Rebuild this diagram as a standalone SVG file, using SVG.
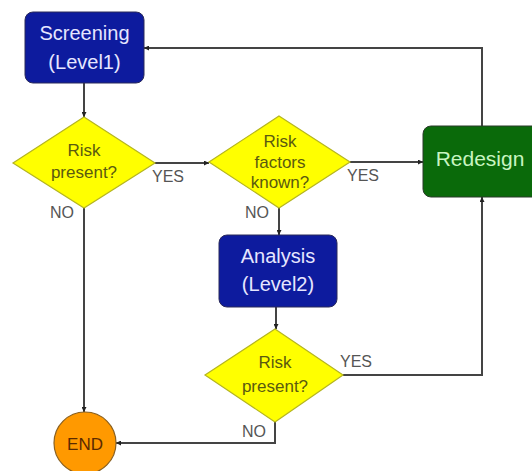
<svg xmlns="http://www.w3.org/2000/svg" width="532" height="471" viewBox="0 0 532 471">
<defs>
<marker id="arr" viewBox="0 0 10 10" refX="10" refY="5" markerWidth="5" markerHeight="5" orient="auto" markerUnits="userSpaceOnUse">
<path d="M0,0 L10,5 L0,10 z" fill="#222"/>
</marker>
<style>
.blue{fill:#0d1b9e;stroke:#2a2a5a;stroke-width:1}
.green{fill:#0a6a0a;stroke:#2a3a2a;stroke-width:1}
.dia{fill:#ffff00;stroke:#b5b520;stroke-width:1.2}
.end{fill:#ff9900;stroke:#8a6020;stroke-width:1.2}
.bt{font-family:"Liberation Sans",Arial,sans-serif;font-size:20px;fill:#e6e6ff;text-anchor:middle}
.gt{font-family:"Liberation Sans",Arial,sans-serif;font-size:21px;fill:#c8f5c0;text-anchor:middle}
.dt{font-family:"Liberation Sans",Arial,sans-serif;font-size:17px;fill:#5a5a10;text-anchor:middle}
.lb{font-family:"Liberation Sans",Arial,sans-serif;font-size:16px;fill:#555}
.et{font-family:"Liberation Sans",Arial,sans-serif;font-size:17px;fill:#5a2a00;text-anchor:middle}
.ln{fill:none;stroke:#444;stroke-width:2}
</style>
</defs>
<g id="connectors">
<path class="ln" d="M84,83 V117" marker-end="url(#arr)"/>
<path class="ln" d="M155,163 H209" marker-end="url(#arr)"/>
<path class="ln" d="M350,162 H423" marker-end="url(#arr)"/>
<path class="ln" d="M482,126 V48 H144" marker-end="url(#arr)"/>
<path class="ln" d="M279,208 V235" marker-end="url(#arr)"/>
<path class="ln" d="M276,307 V329" marker-end="url(#arr)"/>
<path class="ln" d="M343,375 H482 V197" marker-end="url(#arr)"/>
<path class="ln" d="M84,208 V412" marker-end="url(#arr)"/>
<path class="ln" d="M275,422 V443 H116" marker-end="url(#arr)"/>
<text class="lb" x="152" y="182">YES</text>
<text class="lb" x="50" y="218">NO</text>
<text class="lb" x="347" y="181">YES</text>
<text class="lb" x="245" y="218">NO</text>
<text class="lb" x="340" y="367">YES</text>
<text class="lb" x="242" y="437">NO</text>
</g>
<g id="screening">
<rect class="blue" x="25" y="12" width="119" height="71" rx="8"/>
<text class="bt" x="84.5" y="40">Screening</text>
<text class="bt" x="84.5" y="69">(Level1)</text>
</g>
<g id="risk1">
<polygon class="dia" points="84,117 155,163 84,208 13,163"/>
<text class="dt" x="84" y="156">Risk</text>
<text class="dt" x="84" y="178">present?</text>
</g>
<g id="factors">
<polygon class="dia" points="279,116 350,162 279,208 209,162"/>
<text class="dt" x="280" y="147">Risk</text>
<text class="dt" x="280" y="168">factors</text>
<text class="dt" x="280" y="188">known?</text>
</g>
<g id="redesign">
<rect class="green" x="423" y="126" width="122" height="71" rx="8"/>
<text class="gt" x="480" y="166">Redesign</text>
</g>
<g id="analysis">
<rect class="blue" x="219" y="235" width="118" height="72" rx="8"/>
<text class="bt" x="278" y="263">Analysis</text>
<text class="bt" x="278" y="291">(Level2)</text>
</g>
<g id="risk2">
<polygon class="dia" points="275,329 343,375 275,422 205,375"/>
<text class="dt" x="275" y="368">Risk</text>
<text class="dt" x="275" y="392">present?</text>
</g>
<g id="end">
<circle class="end" cx="85" cy="443" r="31"/>
<text class="et" x="85" y="450">END</text>
</g>
</svg>
